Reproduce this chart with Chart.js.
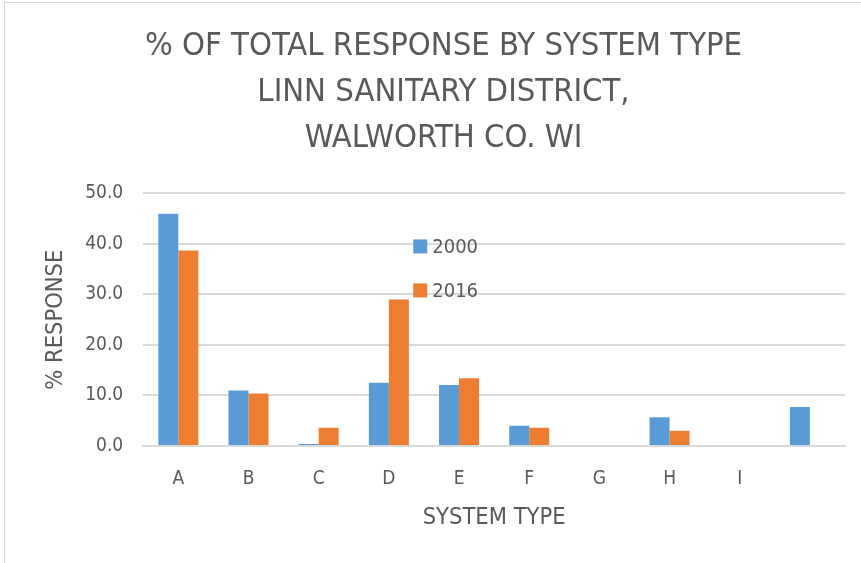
<!DOCTYPE html>
<html>
<head>
<meta charset="utf-8">
<script src="https://cdn.jsdelivr.net/npm/chart.js@4"></script>
<style>
  html, body { margin: 0; padding: 0; background: #fff; overflow: hidden; }
  #frame { position: absolute; left: 4px; top: 2px; width: 900px; height: 600px; border: 1px solid #d9d9d9; }
  #wrap { position: absolute; left: 0; top: 0; width: 861px; height: 563px; }
</style>
</head>
<body>
<div id="frame"></div>
<div id="wrap"><canvas id="c" width="861" height="563"></canvas></div>
<script>
const categories = ["A", "B", "C", "D", "E", "F", "G", "H", "I", ""];
const series2000 = [46.0, 11.0, 0.4, 12.5, 12.1, 4.0, 0, 5.7, 0, 7.7];
const series2016 = [38.7, 10.4, 3.6, 29.0, 13.4, 3.6, 0, 3.0, 0, null];
const yTicks = [0, 10, 20, 30, 40, 50];
const titleLines = ["% OF TOTAL RESPONSE BY SYSTEM TYPE", "LINN SANITARY DISTRICT,", "WALWORTH CO. WI"];

const FONT = "'Liberation Sans Narrow', 'DejaVu Sans Condensed', 'Liberation Sans', sans-serif";
const GREY = "#595959";

const legendPlugin = {
  id: 'insideLegend',
  afterDatasetsDraw(chart) {
    const ctx = chart.ctx;
    const a = chart.chartArea;
    const x0 = a.left + 270;
    const y0 = a.top + 53;
    ctx.save();
    ctx.font = "20px " + FONT;
    ctx.textBaseline = "middle";
    chart.data.datasets.forEach((ds, i) => {
      const y = y0 + i * 44;
      ctx.fillStyle = ds.backgroundColor;
      ctx.fillRect(x0, y - 7, 14, 14);
      ctx.fillStyle = GREY;
      ctx.fillText(ds.label, x0 + 19, y + 1);
    });
    ctx.restore();
  }
};

new Chart(document.getElementById('c'), {
  type: 'bar',
  data: {
    labels: categories,
    datasets: [
      { label: "2000", data: series2000, backgroundColor: "#5B9BD5", categoryPercentage: 0.57, barPercentage: 1.0 },
      { label: "2016", data: series2016, backgroundColor: "#ED7D31", categoryPercentage: 0.57, barPercentage: 1.0 }
    ]
  },
  options: {
    responsive: false,
    animation: false,
    layout: { padding: { left: 42, right: 16, top: 23, bottom: 31 } },
    plugins: {
      legend: { display: false },
      tooltip: { enabled: false },
      title: {
        display: true,
        text: titleLines,
        color: GREY,
        font: { family: FONT, size: 32.5, weight: 'normal', lineHeight: 1.42 },
        padding: { top: 0, bottom: 32 }
      }
    },
    scales: {
      x: {
        grid: { display: false, drawTicks: false },
        border: { color: "#d9d9d9", width: 2 },
        ticks: { color: GREY, font: { family: FONT, size: 19 }, padding: 22 },
        title: { display: true, text: "SYSTEM TYPE", color: GREY, font: { family: FONT, size: 23.5 }, padding: { top: -9, bottom: 0 } }
      },
      y: {
        min: 0, max: 50,
        afterBuildTicks(axis) { axis.ticks = yTicks.map(v => ({ value: v })); },
        grid: { color: "#d9d9d9", lineWidth: 2, drawTicks: false },
        border: { display: false },
        ticks: { color: GREY, font: { family: FONT, size: 19 }, padding: 20, callback: v => Number(v).toFixed(1) },
        title: { display: true, text: "% RESPONSE", color: GREY, font: { family: FONT, size: 23.5 }, padding: { top: 0, bottom: -5 } }
      }
    }
  },
  plugins: [legendPlugin]
});
</script>
</body>
</html>
